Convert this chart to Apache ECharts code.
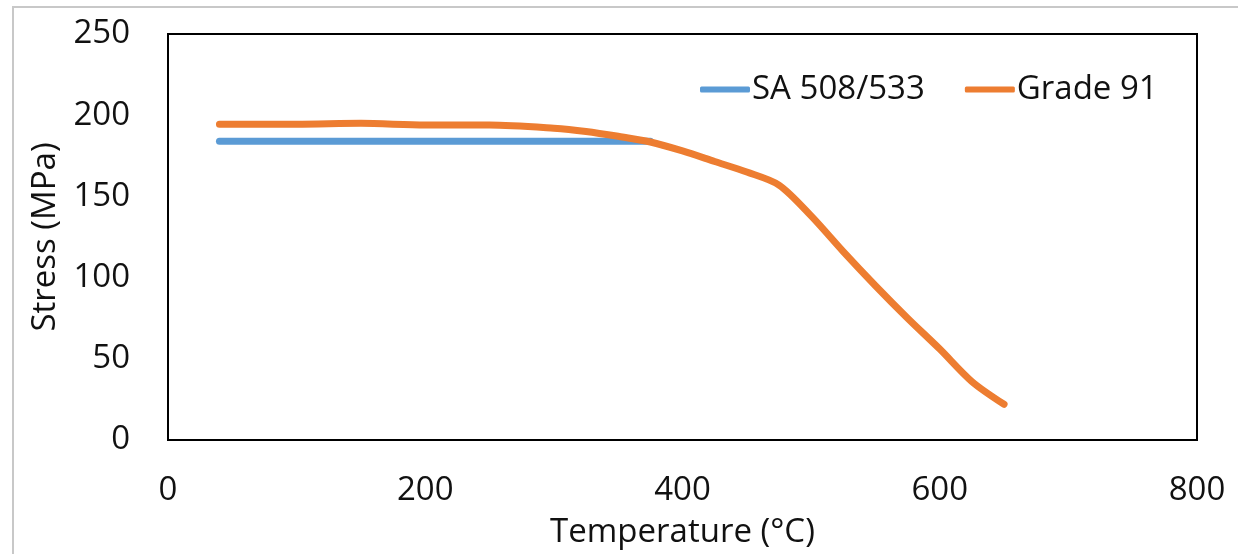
<!DOCTYPE html>
<html>
<head>
<meta charset="utf-8">
<script src="https://cdn.jsdelivr.net/npm/echarts@6/dist/echarts.min.js"></script>
<style>
html,body{margin:0;padding:0;background:#fff;}
#c{width:1238px;height:554px;}
</style>
</head>
<body>
<div id="c"></div>
<script>
const xTicks = [0, 200, 400, 600, 800];
const yTicks = [0, 50, 100, 150, 200, 250];
const saTemps = [40, 375];
const saStress = [184, 184];
const g91Temps = [40, 100, 150, 200, 250, 300, 325, 350, 375, 400, 425, 450, 475, 500, 525, 550, 575, 600, 625, 650];
const g91Stress = [194.5, 194.5, 195, 194, 194, 192, 190, 187, 183.5, 178, 171.5, 165, 157, 138, 116, 95, 75, 56, 36, 22];

const FONT = '"Open Sans", "Liberation Sans", sans-serif';
const chart = echarts.init(document.getElementById('c'));
chart.setOption({
  backgroundColor: '#fff',
  animation: false,
  graphic: [{
    type: 'polyline',
    shape: { points: [[13, 560], [13, 7], [1240, 7]] },
    style: { stroke: '#c8c8c8', lineWidth: 2, fill: null }
  }],
  grid: { left: 168, top: 34, right: 41, bottom: 110, show: true, borderColor: '#000', borderWidth: 2 },
  legend: {
    left: 695, top: 68,
    itemWidth: 50, itemHeight: 6, itemGap: 40,
    icon: 'roundRect',
    textStyle: { fontFamily: FONT, fontSize: 33, color: '#111', padding: [0, 0, 0, -3] },
    data: ['SA 508/533', 'Grade 91']
  },
  xAxis: {
    type: 'value', min: 0, max: 800, interval: 200,
    name: 'Temperature (°C)', nameLocation: 'middle', nameGap: 76,
    nameTextStyle: { fontFamily: FONT, fontSize: 33, color: '#111' },
    axisLine: { show: true, lineStyle: { color: '#000', width: 2 } },
    axisTick: { show: false },
    splitLine: { show: false },
    axisLabel: { fontFamily: FONT, fontSize: 33, color: '#111', margin: 34,
      formatter: v => xTicks.includes(v) ? String(v) : '' }
  },
  yAxis: {
    type: 'value', min: 0, max: 250, interval: 50,
    name: 'Stress (MPa)', nameLocation: 'middle', nameGap: 104,
    nameTextStyle: { fontFamily: FONT, fontSize: 33, color: '#111' },
    axisLine: { show: true, lineStyle: { color: '#000', width: 2 } },
    axisTick: { show: false },
    splitLine: { show: false },
    axisLabel: { fontFamily: FONT, fontSize: 33, color: '#111', margin: 38,
      formatter: v => yTicks.includes(v) ? String(v) : '' }
  },
  series: [
    {
      name: 'SA 508/533', type: 'line', symbol: 'none',
      data: saTemps.map((t, i) => [t, saStress[i]]),
      lineStyle: { color: '#5B9BD5', width: 7, cap: 'round' },
      itemStyle: { color: '#5B9BD5' }
    },
    {
      name: 'Grade 91', type: 'line', symbol: 'none', smooth: 0.3,
      data: g91Temps.map((t, i) => [t, g91Stress[i]]),
      lineStyle: { color: '#ED7D31', width: 7, cap: 'round' },
      itemStyle: { color: '#ED7D31' }
    }
  ]
});
</script>
</body>
</html>
